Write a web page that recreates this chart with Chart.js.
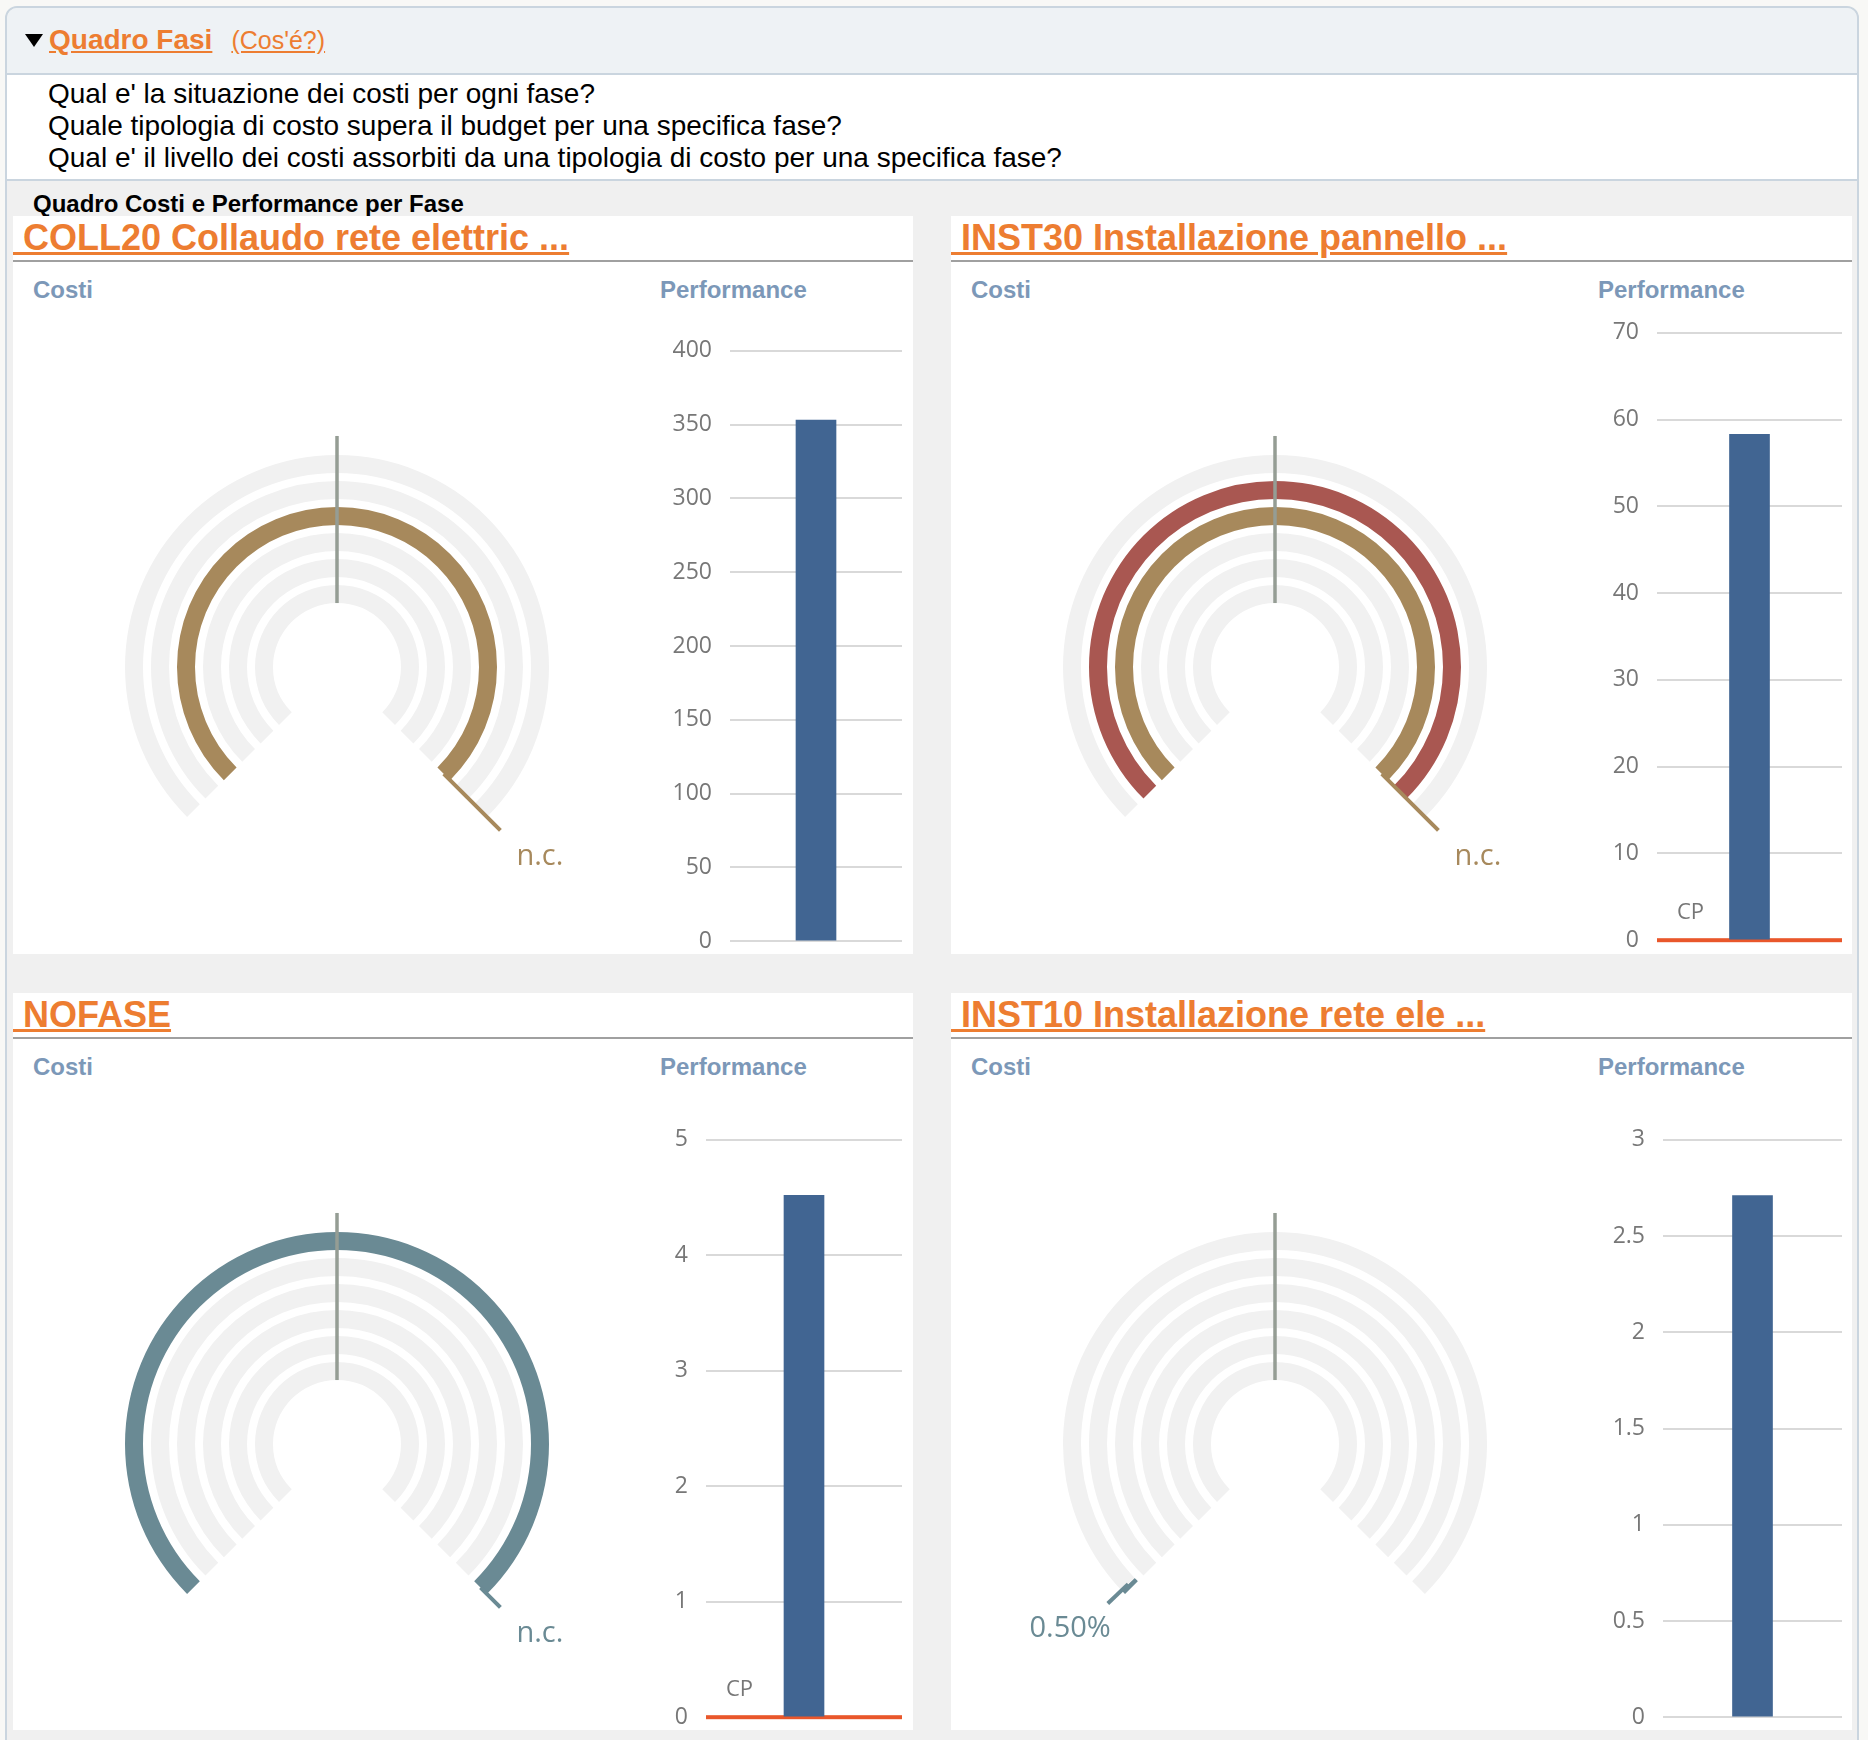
<!DOCTYPE html>
<html>
<head>
<meta charset="utf-8">
<script src="https://cdn.jsdelivr.net/npm/chart.js@4.4.0/dist/chart.umd.min.js"></script>
<style>
  body { margin:0; width:1868px; height:1740px; background:#f8f8f6; position:relative; overflow:hidden;
         font-family:'Liberation Sans', Arial, sans-serif; }
  .abs { position:absolute; }
  #frame { left:5px; top:6px; width:1850px; height:1760px; border:2px solid #cad5df; border-radius:12px 12px 0 0; background:#f0f0f0; }
  #head { left:7px; top:8px; width:1850px; height:65px; background:#eef2f5; border-bottom:2px solid #cad5df; border-radius:10px 10px 0 0; }
  #quest { left:7px; top:75px; width:1850px; height:104px; background:#fff; border-bottom:2px solid #cad5df; }
  .orange { color:#ed7d31; text-decoration:underline; }
  .tri { display:inline-block; width:0; height:0; border-left:9px solid transparent; border-right:9px solid transparent;
         border-top:13px solid #000; margin-right:6px; vertical-align:2px; }
  .panel { position:absolute; background:#fff; }
  .ptitle { position:absolute; left:0; top:2px; font-size:36px; font-weight:bold; line-height:40px; white-space:pre; }
  .pline { position:absolute; left:0; top:44px; height:2px; background:#a0a0a0; }
  .sub { position:absolute; top:62px; font-size:24px; font-weight:bold; color:#7c98b8; line-height:24px; }
  canvas { position:absolute; }
</style>
</head>
<body>
<div id="frame" class="abs"></div>
<div id="head" class="abs">
  <div class="abs" style="left:18px;top:17px;white-space:nowrap;line-height:30px">
    <span class="tri"></span><span class="orange" style="font-size:28px;font-weight:bold">Quadro Fasi</span><span class="orange" style="font-size:25px;margin-left:19px">(Cos'é?)</span>
  </div>
</div>
<div id="quest" class="abs">
  <div class="abs" style="left:41px;top:3px;font-size:28px;line-height:32px;color:#000;white-space:nowrap">
    Qual e' la situazione dei costi per ogni fase?<br>
    Quale tipologia di costo supera il budget per una specifica fase?<br>
    Qual e' il livello dei costi assorbiti da una tipologia di costo per una specifica fase?
  </div>
</div>
<div class="abs" style="left:33px;top:191px;font-size:24px;font-weight:bold;line-height:26px;color:#000">Quadro Costi e Performance per Fase</div>
<div id="panels"></div>

<script>
// fasi (una per pannello)
const phaseNames = ['COLL20 Collaudo rete elettric ...', 'INST30 Installazione pannello ...', 'NOFASE', 'INST10 Installazione rete ele ...'];

// tipologie di costo, anelli dall'esterno verso l'interno
const costTypes = ['Tipo 1', 'Tipo 2', 'Tipo 3', 'Tipo 4', 'Tipo 5', 'Tipo 6'];
const ringColors = ['#6a8a94', '#a95751', '#a7895c', '#8a9aa6', '#b39b7c', '#7d93a8'];

// costi assorbiti (% del budget) per fase e tipologia
const costPct = [
  [0, 0, 100, 0, 0, 0],
  [0, 100, 100, 0, 0, 0],
  [100, 0, 0, 0, 0, 0],
  [0.5, 0, 0, 0, 0, 0]
];
const labelRing = [2, 2, 0, 0];
const labelTexts = ['n.c.', 'n.c.', 'n.c.', '0.50%'];
const markerPct = [50, 50, 50, 50];

// performance
const perfValues = [353, 58.3, 4.52, 2.71];
const perfMax = [400, 70, 5, 3];
const perfStep = [50, 10, 1, 0.5];
const cpValues = [null, 0, 0, null];

// layout
const panelPos = [
  {x: 13, y: 216, w: 900, h: 738},
  {x: 951, y: 216, w: 901, h: 738},
  {x: 13, y: 993, w: 900, h: 737},
  {x: 951, y: 993, w: 901, h: 737}
];
const gridBox = [
  {x0: 717, x1: 889, y0: 135, y1: 725},
  {x0: 706, x1: 891, y0: 117, y1: 724},
  {x0: 693, x1: 889, y0: 147, y1: 724},
  {x0: 712, x1: 891, y0: 147, y1: 724}
];

Chart.defaults.font.family = "'Open Sans', sans-serif";

const gaugeMarks = {
  id: 'gaugeMarks',
  afterDatasetsDraw(chart, args, opts) {
    const ctx = chart.ctx;
    const first = chart.getDatasetMeta(0).data[0];
    const last = chart.getDatasetMeta(chart.data.datasets.length - 1).data[0];
    const cx = first.x, cy = first.y;
    const start = first.startAngle;
    const sweep = Math.PI * 1.5;
    const rTip = first.outerRadius * 1.09;
    const at = (pct, r) => {
      const a = start + sweep * pct / 100;
      return [cx + Math.cos(a) * r, cy + Math.sin(a) * r, Math.cos(a)];
    };
    ctx.save();
    ctx.lineCap = 'butt';
    // linea di riferimento
    let a = at(opts.marker, last.innerRadius), b = at(opts.marker, rTip);
    ctx.strokeStyle = '#959d94';
    ctx.lineWidth = 3.5;
    ctx.beginPath(); ctx.moveTo(a[0], a[1]); ctx.lineTo(b[0], b[1]); ctx.stroke();
    // indicatore del valore
    const ring = chart.getDatasetMeta(opts.ring * 2).data[0];
    const pct = Math.min(opts.value, 100);
    a = at(pct, (ring.outerRadius + ring.innerRadius) / 2);
    b = at(pct, rTip);
    ctx.strokeStyle = opts.color;
    ctx.lineWidth = 4;
    ctx.beginPath(); ctx.moveTo(a[0], a[1]); ctx.lineTo(b[0], b[1]); ctx.stroke();
    ctx.fillStyle = opts.color;
    ctx.font = "29px 'Open Sans'";
    ctx.textBaseline = 'alphabetic';
    if (b[2] > 0) {
      ctx.textAlign = 'left';
      ctx.fillText(opts.label, b[0] + 16, b[1] + 35);
    } else {
      ctx.textAlign = 'right';
      ctx.fillText(opts.label, b[0] + 3, b[1] + 33);
    }
    ctx.restore();
  }
};

const cpLine = {
  id: 'cpLine',
  beforeDatasetsDraw(chart, args, opts) {
    if (opts.value == null) return;
    const ctx = chart.ctx;
    const y = chart.scales.y.getPixelForValue(opts.value);
    const {left, right} = chart.chartArea;
    ctx.save();
    ctx.fillStyle = '#e9572b';
    ctx.fillRect(left, y - 2, right - left, 4);
    ctx.fillStyle = '#767676';
    ctx.font = "22px 'Open Sans'";
    ctx.textAlign = 'left';
    ctx.fillText('CP', left + 20, y - 21);
    ctx.restore();
  }
};

const host = document.getElementById('panels');

phaseNames.forEach((name, i) => {
  const p = panelPos[i];
  const panel = document.createElement('div');
  panel.className = 'panel';
  Object.assign(panel.style, {left: p.x + 'px', top: p.y + 'px', width: p.w + 'px', height: p.h + 'px'});
  panel.innerHTML =
    '<div class="ptitle orange">' + ' ' + name + '</div>' +
    '<div class="pline" style="width:' + p.w + 'px"></div>' +
    '<div class="sub" style="left:20px">Costi</div>' +
    '<div class="sub" style="left:647px">Performance</div>';
  host.appendChild(panel);

  // gauge
  const gc = document.createElement('canvas');
  gc.width = 560; gc.height = 520;
  gc.style.left = '44px'; gc.style.top = '160px';
  panel.appendChild(gc);

  const datasets = [];
  costTypes.forEach((t, r) => {
    if (r > 0) {
      datasets.push({label: 'gap', data: [100], backgroundColor: ['rgba(0,0,0,0)'], weight: 8, borderWidth: 0});
    }
    const v = Math.min(costPct[i][r], 100);
    datasets.push({
      label: t,
      data: [v, 100 - v],
      backgroundColor: [ringColors[r], '#f1f1f1'],
      weight: 18,
      borderWidth: 0
    });
  });

  new Chart(gc, {
    type: 'doughnut',
    data: {labels: ['Costo', 'Residuo'], datasets},
    options: {
      responsive: false,
      animation: false,
      events: [],
      rotation: -135,
      circumference: 270,
      radius: 212,
      cutout: (64 / 212 * 100) + '%',
      hoverOffset: 0,
      offset: 0,
      plugins: {
        legend: {display: false},
        tooltip: {enabled: false},
        gaugeMarks: {
          marker: markerPct[i],
          ring: labelRing[i],
          value: costPct[i][labelRing[i]],
          label: labelTexts[i],
          color: ringColors[labelRing[i]]
        }
      }
    },
    plugins: [gaugeMarks]
  });

  // barra performance
  const g = gridBox[i];
  const bc = document.createElement('canvas');
  const pad = 20;
  bc.width = g.x1 - g.x0 + 94;
  bc.height = g.y1 - g.y0 + 2 * pad;
  bc.style.left = (g.x0 - 90) + 'px';
  bc.style.top = (g.y0 - pad) + 'px';
  panel.appendChild(bc);

  const bar = new Chart(bc, {
    type: 'bar',
    data: {
      labels: [name],
      datasets: [{label: 'Performance', data: [perfValues[i]], backgroundColor: '#416592', barThickness: 40}]
    },
    options: {
      responsive: false,
      maintainAspectRatio: false,
      animation: false,
      events: [],
      layout: {padding: {top: pad, bottom: pad, left: 0, right: 4}},
      scales: {
        x: {display: false},
        y: {
          min: 0,
          max: perfMax[i],
          ticks: {stepSize: perfStep[i], padding: 18, color: '#777', font: {size: 23}, callback: v => String(v)},
          grid: {color: '#d9d9d9', lineWidth: 2, drawTicks: false},
          border: {display: false},
          afterFit(s) { s.width = 90; }
        }
      },
      plugins: {
        legend: {display: false},
        tooltip: {enabled: false},
        cpLine: {value: cpValues[i]}
      }
    },
    plugins: [cpLine]
  });

  // allinea l'area del grafico alla griglia voluta
  const ca = bar.chartArea;
  const dTop = Math.round(ca.top - pad);
  const dBot = Math.round((bc.height - pad) - ca.bottom);
  if (dTop || dBot) {
    bar.resize(bc.width, g.y1 - g.y0 + 2 * pad + dTop + dBot);
    bc.style.top = (g.y0 - pad - dTop) + 'px';
  }
});
</script>
</body>
</html>
